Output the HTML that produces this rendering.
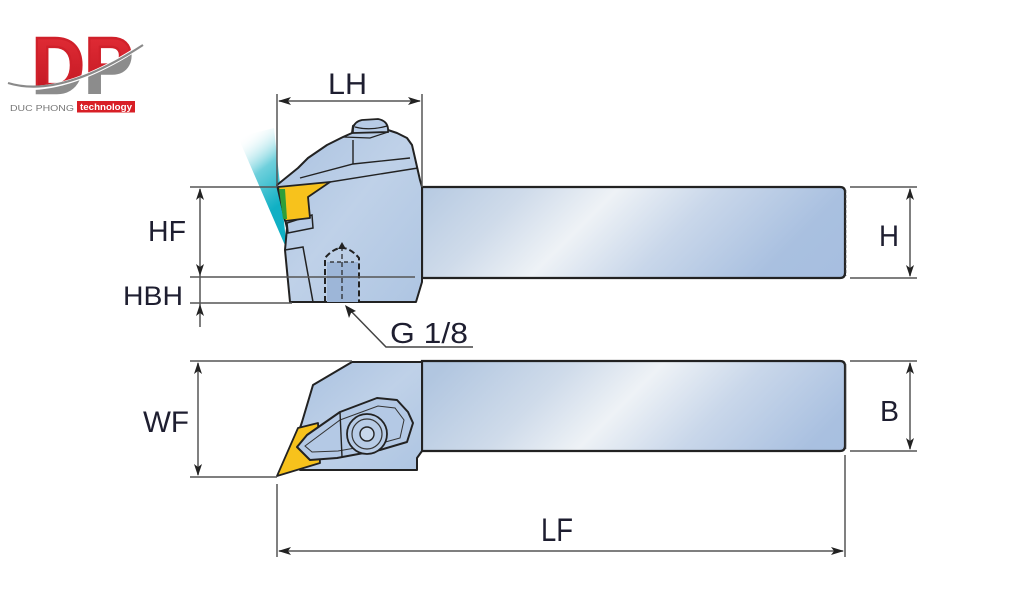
<!DOCTYPE html>
<html><head><meta charset="utf-8"><style>
html,body{margin:0;padding:0;background:#fff;}
svg{display:block;}
text{font-family:"Liberation Sans",Arial,sans-serif;}
</style></head><body>
<svg width="1024" height="600" viewBox="0 0 1024 600" xmlns="http://www.w3.org/2000/svg">
<defs>
  <linearGradient id="shk1" gradientUnits="userSpaceOnUse" x1="425" y1="100" x2="745" y2="420">
    <stop offset="0.1" stop-color="#b1c6e0"/>
    <stop offset="0.3" stop-color="#cfdbea"/>
    <stop offset="0.44" stop-color="#eef2f6"/>
    <stop offset="0.6" stop-color="#c9d7ea"/>
    <stop offset="0.8" stop-color="#a9c0e0"/>
    <stop offset="1" stop-color="#a5bde0"/>
  </linearGradient>
  <linearGradient id="shk2" gradientUnits="userSpaceOnUse" x1="425" y1="320" x2="745" y2="640">
    <stop offset="0.1" stop-color="#b1c6e0"/>
    <stop offset="0.3" stop-color="#cfdbea"/>
    <stop offset="0.44" stop-color="#eef2f6"/>
    <stop offset="0.6" stop-color="#c9d7ea"/>
    <stop offset="0.8" stop-color="#a9c0e0"/>
    <stop offset="1" stop-color="#a5bde0"/>
  </linearGradient>
  <linearGradient id="head" x1="0" y1="0" x2="1" y2="1">
    <stop offset="0" stop-color="#a9c1e0"/>
    <stop offset="0.5" stop-color="#bfd1e8"/>
    <stop offset="1" stop-color="#aec5e2"/>
  </linearGradient>
  <linearGradient id="cyan" gradientUnits="userSpaceOnUse" x1="238" y1="140" x2="285" y2="200">
    <stop offset="0" stop-color="#ffffff" stop-opacity="0"/>
    <stop offset="0.5" stop-color="#6fd0dc"/>
    <stop offset="1" stop-color="#10b0c4"/>
  </linearGradient>
  <linearGradient id="red" x1="0" y1="0" x2="0" y2="1">
    <stop offset="0" stop-color="#e8303a"/>
    <stop offset="1" stop-color="#b8121c"/>
  </linearGradient>
  <clipPath id="below">
    <path d="M0,84 Q60,102 150,40 L150,110 L0,110 Z"/>
  </clipPath>
</defs>

<!-- LOGO -->
<text x="32" y="93" font-size="80" font-weight="bold" fill="url(#red)" stroke="#d0202a" stroke-width="2.5" textLength="101" lengthAdjust="spacingAndGlyphs">DP</text>
<g clip-path="url(#below)">
  <rect x="0" y="30" width="150" height="80" fill="#fff"/>
  <text x="32" y="93" font-size="80" font-weight="bold" fill="#8c8c8c" stroke="#8c8c8c" stroke-width="2.5" textLength="101" lengthAdjust="spacingAndGlyphs">DP</text>
</g>
<path d="M0,84 Q60,102 150,40" fill="none" stroke="#fff" stroke-width="4"/>
<path d="M8,83 Q60,99 143,45" fill="none" stroke="#8a8a8a" stroke-width="2.2"/>
<text x="10" y="111" font-size="8.5" fill="#777" textLength="64" lengthAdjust="spacingAndGlyphs">DUC PHONG</text>
<rect x="77" y="101" width="58" height="11.5" fill="#d81f26"/>
<text x="80" y="110" font-size="9" font-weight="bold" fill="#fff" textLength="52" lengthAdjust="spacingAndGlyphs">technology</text>

<!-- ===== TOP VIEW ===== -->
<polygon points="238,137 274,128 287,250" fill="url(#cyan)"/>

<path d="M422,187 L840,187 Q845,187 845,192 L845,273 Q845,278 840,278 L422,278 Z" fill="url(#shk1)" stroke="#222" stroke-width="2.2"/>
<line x1="845.5" y1="190" x2="845.5" y2="276" stroke="#333" stroke-width="1.5" stroke-dasharray="3,2"/>

<path d="M277,185 L298,168 L308,158 L327,145 L343,137 L352,133 L353,126 L360,121 L377,120 L386,124 L388,130 L397,133 L407,138 L412,145 L415,158 L420,180 L422,187 L422,282 L416,302 L290,302 L285,250 L287,228 Z" fill="url(#head)" stroke="#222" stroke-width="2" stroke-linejoin="round"/>
<path d="M353,133 Q352,122 362,120 L378,119 Q389,121 388,132 Z" fill="#b7cbe6" stroke="#222" stroke-width="1.8"/>
<path d="M355,127 Q370,131 387,126" fill="none" stroke="#222" stroke-width="1.2"/>
<polyline points="300,178 353,164 410,158" fill="none" stroke="#222" stroke-width="1.4"/>
<line x1="353" y1="140" x2="353" y2="164" stroke="#222" stroke-width="1.4"/>
<line x1="330" y1="182" x2="418" y2="168" stroke="#222" stroke-width="1.4"/>
<polyline points="343,137 370,138 388,132" fill="none" stroke="#222" stroke-width="1.2"/>
<polyline points="285,250 303,247 313,302" fill="none" stroke="#222" stroke-width="1.5"/>
<rect x="327" y="262" width="31" height="40" fill="#9db6d8"/>
<path d="M325,302 L325,258 Q342,238 359,258 L359,302" fill="none" stroke="#222" stroke-width="2" stroke-dasharray="6,3"/>
<line x1="342" y1="246" x2="342" y2="302" stroke="#222" stroke-width="1.2" stroke-dasharray="5,3"/>
<path d="M342,242 L338,249 L346,249 Z" fill="#222"/>
<line x1="330" y1="262" x2="354" y2="262" stroke="#222" stroke-width="1.2" stroke-dasharray="4,3"/>
<polygon points="287,223 312,215 313,228 288,233" fill="#b7cbe6" stroke="#222" stroke-width="1.5"/>
<polygon points="278,187 330,182 308,197 310,218 285,221" fill="#f7c21c" stroke="#222" stroke-width="1.8" stroke-linejoin="round"/>
<polygon points="279,189 285,189 287,219 283,219" fill="#2e9e3a"/>

<!-- ===== BOTTOM VIEW ===== -->
<path d="M422,361 L840,361 Q845,361 845,366 L845,446 Q845,451 840,451 L422,451 Z" fill="url(#shk2)" stroke="#222" stroke-width="2.2"/>
<line x1="845.5" y1="364" x2="845.5" y2="449" stroke="#333" stroke-width="1.5"/>
<path d="M352,362 L422,362 L422,451 L417,458 L417,470 L300,470 L296,440 L302,422 L313,385 Z" fill="url(#head)" stroke="#222" stroke-width="2" stroke-linejoin="round"/>
<polygon points="277,476 298,428 318,423 320,463" fill="#f7c21c" stroke="#222" stroke-width="1.8" stroke-linejoin="round"/>
<path d="M297,447 L307,435 L340,412 L377,398 L397,400 L408,412 L413,423 L407,442 L380,450 L337,458 L310,460 Z" fill="#b4c9e5" stroke="#222" stroke-width="2" stroke-linejoin="round"/>
<path d="M305,446 L340,420 L378,406 L395,408 L404,420 L400,438 L378,444 L338,451 L312,452 Z" fill="none" stroke="#333" stroke-width="1"/>
<line x1="340" y1="412" x2="342" y2="457" stroke="#222" stroke-width="1.4"/>
<circle cx="367" cy="434" r="20" fill="#b8cce6" stroke="#222" stroke-width="1.8"/>
<circle cx="367" cy="434" r="15" fill="none" stroke="#333" stroke-width="1.2"/>
<circle cx="367" cy="434" r="7" fill="#c8d8ec" stroke="#222" stroke-width="1.4"/>

<!-- ===== DIMENSIONS ===== -->
<g stroke="#555" stroke-width="1.5" fill="none">
  <line x1="277" y1="94" x2="277" y2="187"/>
  <line x1="422" y1="94" x2="422" y2="187"/>
  <line x1="279" y1="101" x2="420" y2="101"/>
  <line x1="190" y1="187" x2="277" y2="187"/>
  <line x1="190" y1="277" x2="415" y2="277"/>
  <line x1="190" y1="303" x2="292" y2="303"/>
  <line x1="200" y1="189" x2="200" y2="327"/>
  <line x1="850" y1="187" x2="917" y2="187"/>
  <line x1="850" y1="278" x2="917" y2="278"/>
  <line x1="910" y1="189" x2="910" y2="276"/>
  <line x1="850" y1="361" x2="917" y2="361"/>
  <line x1="850" y1="451" x2="917" y2="451"/>
  <line x1="910" y1="363" x2="910" y2="449"/>
  <line x1="190" y1="361" x2="352" y2="361"/>
  <line x1="190" y1="477" x2="277" y2="477"/>
  <line x1="198" y1="363" x2="198" y2="475"/>
  <line x1="277" y1="484" x2="277" y2="557"/>
  <line x1="845" y1="455" x2="845" y2="557"/>
  <line x1="279" y1="551" x2="843" y2="551"/>
  <polyline points="348,308 386,347 473,347" stroke="#444"/>
</g>
<g fill="#222">
  <path d="M278,101 L291,97 L288,101 L291,105 Z"/>
  <path d="M421,101 L408,97 L411,101 L408,105 Z"/>
  <path d="M200,188 L196,200 L200,197 L204,200 Z"/>
  <path d="M200,276 L196,264 L200,267 L204,264 Z"/>
  <path d="M200,304 L196,316 L200,313 L204,316 Z"/>
  <path d="M910,188 L906,200 L910,197 L914,200 Z"/>
  <path d="M910,277 L906,265 L910,268 L914,265 Z"/>
  <path d="M910,362 L906,374 L910,371 L914,374 Z"/>
  <path d="M910,450 L906,438 L910,441 L914,438 Z"/>
  <path d="M198,362 L194,374 L198,371 L202,374 Z"/>
  <path d="M198,476 L194,464 L198,467 L202,464 Z"/>
  <path d="M278,551 L291,547 L288,551 L291,555 Z"/>
  <path d="M844,551 L831,547 L834,551 L831,555 Z"/>
  <path d="M345,305 L349,318 L351,313 L356,311 Z"/>
</g>

<!-- LABELS -->
<g fill="#1e1e30" font-weight="normal">
  <text x="328" y="94" font-size="30" textLength="39" lengthAdjust="spacingAndGlyphs">LH</text>
  <text x="148" y="241" font-size="29" textLength="38" lengthAdjust="spacingAndGlyphs">HF</text>
  <text x="123" y="305" font-size="27" textLength="60" lengthAdjust="spacingAndGlyphs">HBH</text>
  <text x="879" y="246" font-size="30" textLength="20" lengthAdjust="spacingAndGlyphs">H</text>
  <text x="880" y="421" font-size="29" textLength="19" lengthAdjust="spacingAndGlyphs">B</text>
  <text x="143" y="432" font-size="30" textLength="46" lengthAdjust="spacingAndGlyphs">WF</text>
  <text x="541" y="541" font-size="32" textLength="32" lengthAdjust="spacingAndGlyphs">LF</text>
  <text x="390" y="343" font-size="29" textLength="78" lengthAdjust="spacingAndGlyphs">G 1/8</text>
</g>
</svg>
</body></html>
